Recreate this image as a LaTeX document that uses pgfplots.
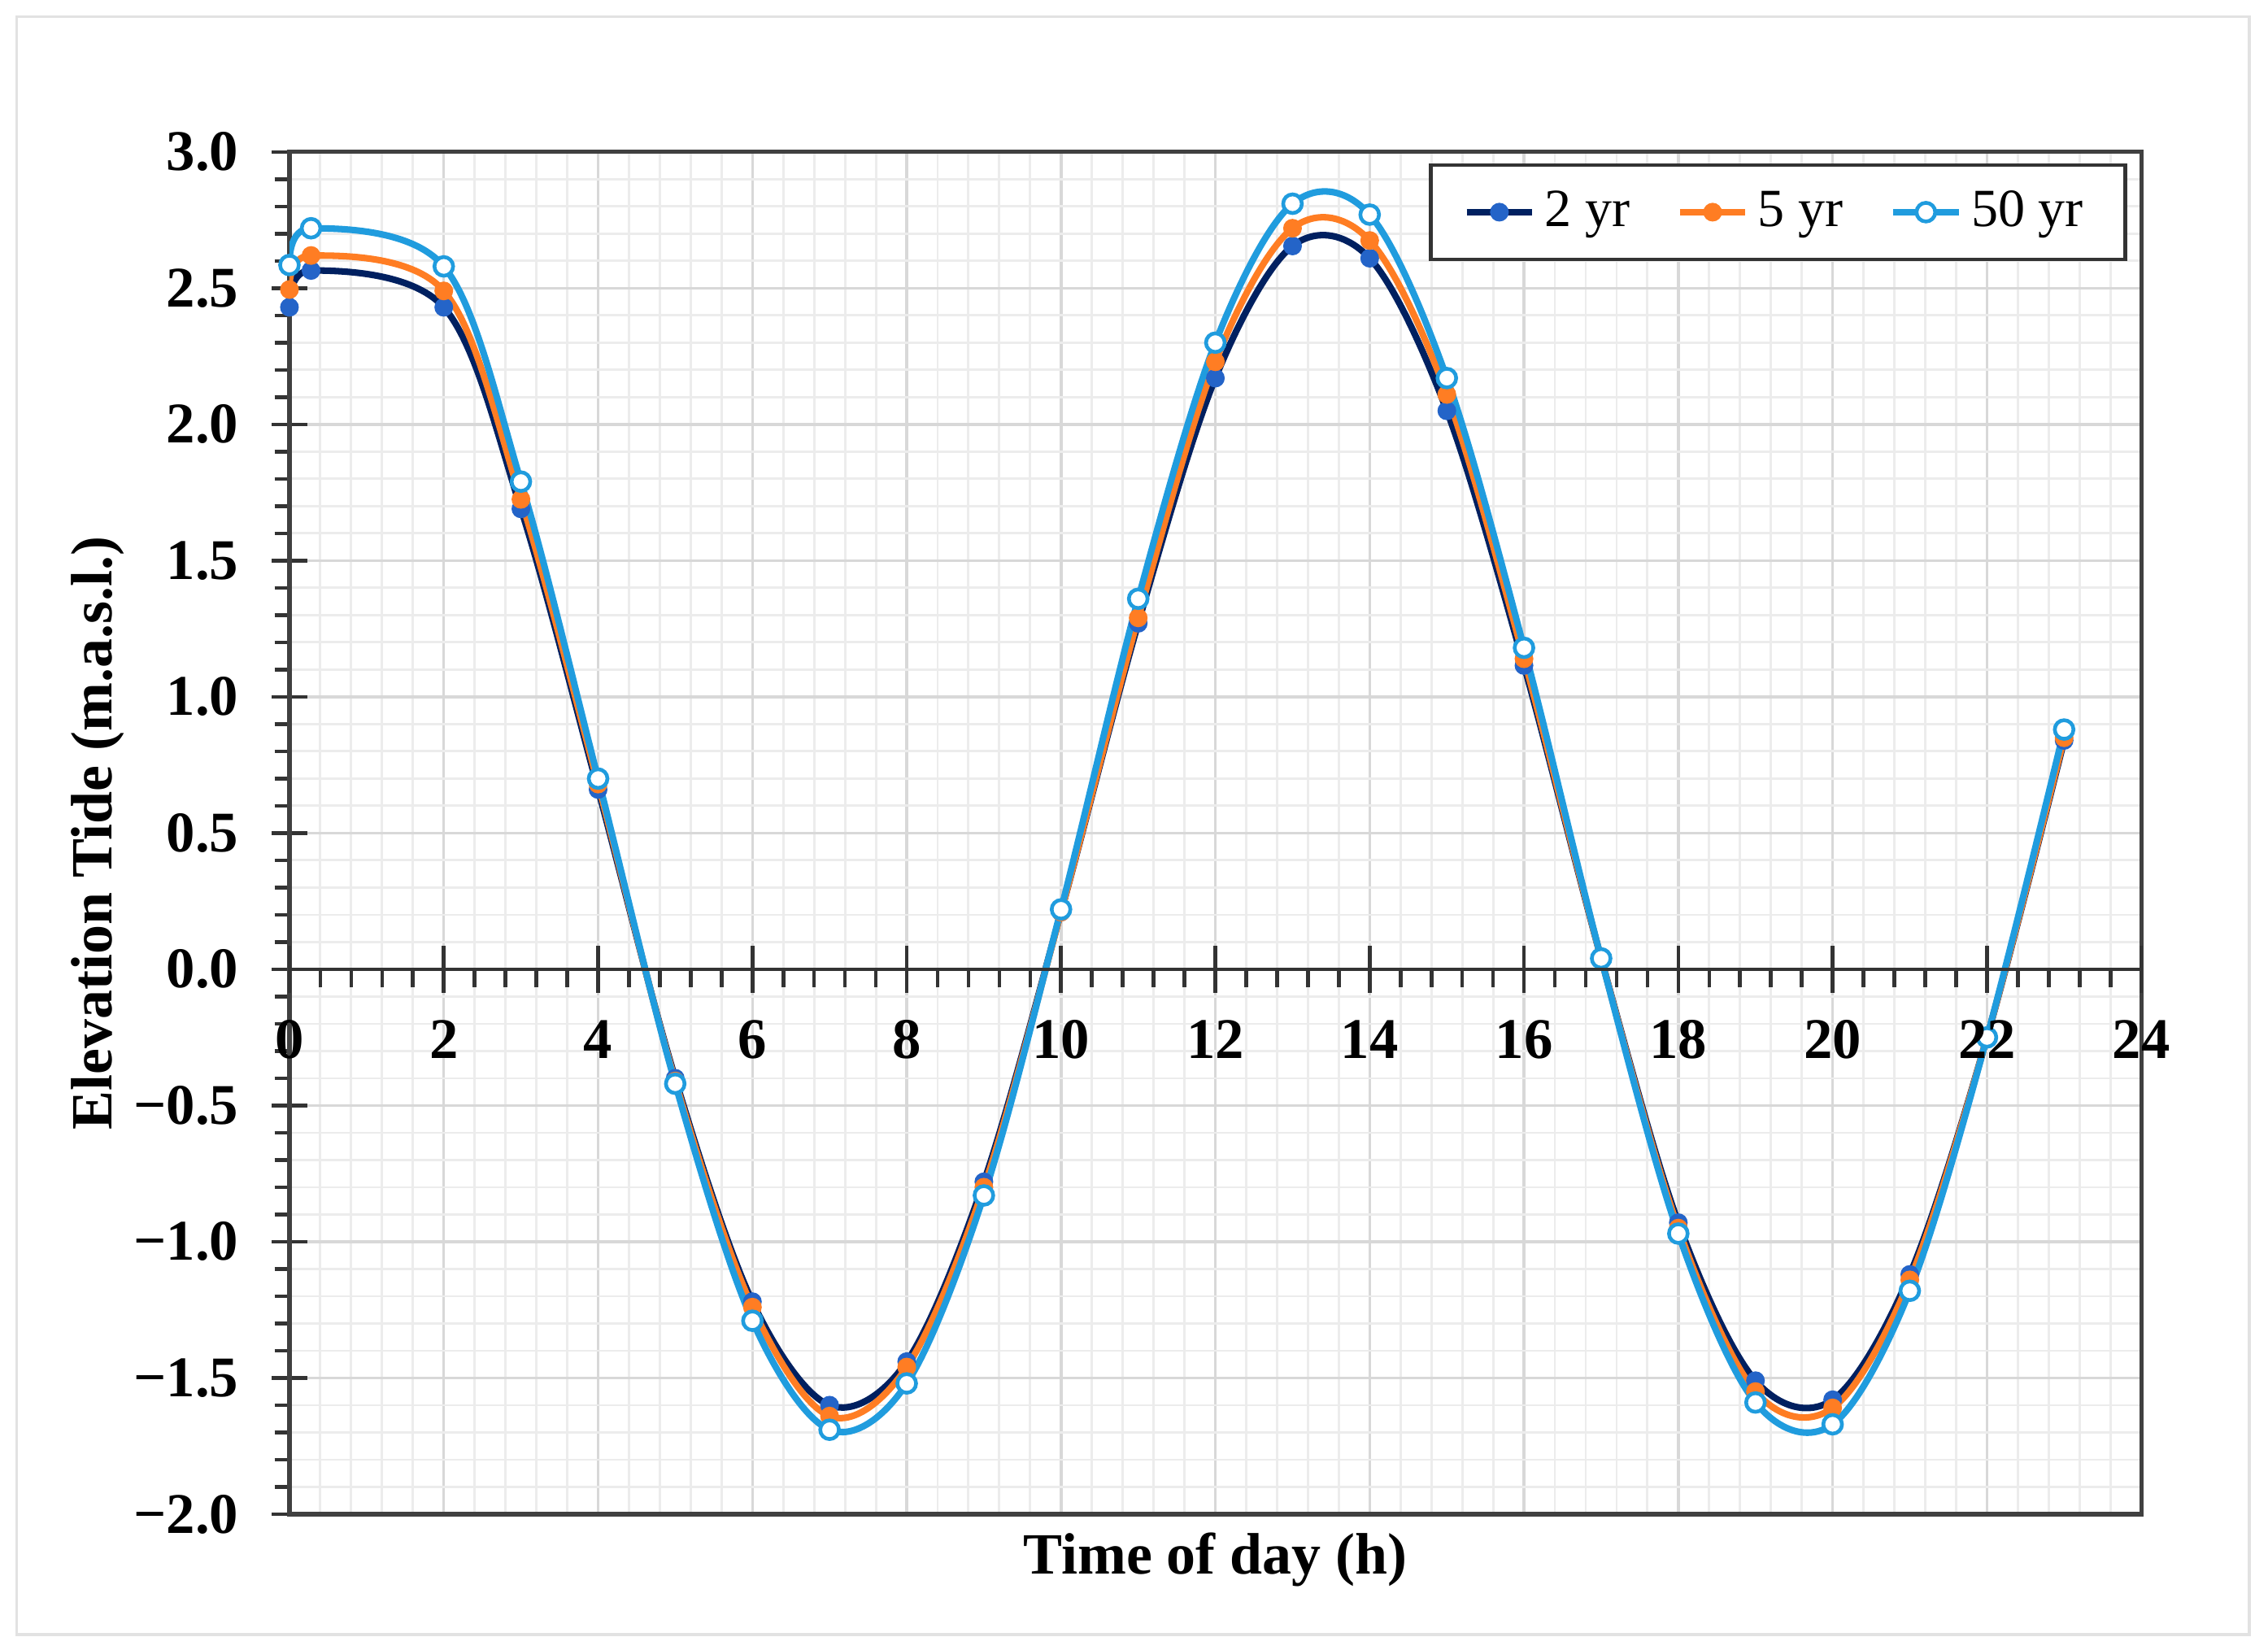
\documentclass[border=0pt]{standalone}
\usepackage{fontspec}
\setmainfont{Liberation Serif}
\usepackage{pgfplots}
\pgfplotsset{compat=1.18}
\usetikzlibrary{calc}

\definecolor{navy2}{RGB}{0,32,96}
\definecolor{mark2}{RGB}{36,100,200}
\definecolor{orange5}{RGB}{255,125,35}
\definecolor{blue50}{RGB}{32,156,222}
\definecolor{gridminor}{RGB}{236,236,236}
\definecolor{gridmajor}{RGB}{216,216,216}
\definecolor{framegray}{RGB}{226,226,226}

\begin{document}
\begin{tikzpicture}
\begin{axis}[
  name=main,
  scale only axis,
  width=396pt, height=291.3pt,
  xmin=0, xmax=24, ymin=-2, ymax=3,
  axis line style={draw=black!75, line width=0.9pt},
  xtick={0,2,...,24},
  minor x tick num=4,
  xticklabels={},
  xtick style={draw=none},
  ytick={-2,-1.5,...,3},
  yticklabels={−2.0,−1.5,−1.0,−0.5,0.0,0.5,1.0,1.5,2.0,2.5,3.0},
  minor y tick num=4,
  ytick pos=left,
  ytick align=center,
  major tick length=7.6pt,
  minor tick length=3.2pt,
  major y tick style={line width=0.8pt, black!80},
  minor y tick style={line width=0.8pt, black!80, xshift=-1.6pt},
  yticklabel style={font=\fontsize{12.3}{14}\selectfont\bfseries, xshift=-3.6pt},
  grid=both,
  major grid style={gridmajor, line width=0.6pt},
  minor grid style={gridminor, line width=0.5pt},
  xlabel={Time of day (h)},
  ylabel={Elevation Tide (m.a.s.l.)},
  every axis x label/.style={at={(axis description cs:0.5,0)}, anchor=center, yshift=-9.8pt,
    font=\fontsize{12.5}{15}\selectfont\bfseries},
  every axis y label/.style={at={(axis description cs:-0.1035,0.5)}, anchor=center, rotate=90,
    font=\fontsize{12.5}{15}\selectfont\bfseries},
  legend columns=3,
  legend style={at={(axis description cs:1,1)}, anchor=north east, xshift=-3pt, yshift=-2.4pt,
    draw=black!80, line width=0.8pt, inner xsep=7pt, inner ysep=3.5pt,
    font=\fontsize{11.5}{13}\selectfont,
    /tikz/every even column/.append style={column sep=8pt}},
  legend image code/.code={\draw[mark repeat=2,mark phase=2,#1] plot coordinates {(0pt,0pt) (7pt,0pt) (14pt,0pt)};},
]
\addplot[navy2, line width=1.4pt, smooth, tension=0.55,
  mark=*, mark size=1.8pt, mark options={fill=mark2, draw=mark2, line width=0.4pt}] coordinates {
  (0,2.43) (0.28,2.565) (2,2.43) (3,1.69) (4,0.66) (5,-0.40) (6,-1.22) (7,-1.60)
  (8,-1.44) (9,-0.78) (10,0.21) (11,1.27) (12,2.17) (13,2.655) (14,2.61) (15,2.05)
  (16,1.115) (17,0.04) (18,-0.93) (19,-1.51) (20,-1.58) (21,-1.12) (22,-0.25) (23,0.84)
};
\addlegendentry{2 yr}
\addplot[orange5, line width=1.4pt, smooth, tension=0.55,
  mark=*, mark size=1.8pt, mark options={fill=orange5, draw=orange5, line width=0.4pt}] coordinates {
  (0,2.495) (0.28,2.62) (2,2.49) (3,1.725) (4,0.68) (5,-0.41) (6,-1.24) (7,-1.64)
  (8,-1.46) (9,-0.80) (10,0.21) (11,1.29) (12,2.23) (13,2.72) (14,2.675) (15,2.11)
  (16,1.14) (17,0.04) (18,-0.95) (19,-1.55) (20,-1.61) (21,-1.14) (22,-0.25) (23,0.85)
};
\addlegendentry{5 yr}
\addplot[blue50, line width=1.4pt, smooth, tension=0.55,
  mark=*, mark size=2pt, mark options={fill=white, draw=blue50, line width=0.8pt}] coordinates {
  (0,2.585) (0.28,2.72) (2,2.58) (3,1.79) (4,0.70) (5,-0.42) (6,-1.29) (7,-1.69)
  (8,-1.52) (9,-0.83) (10,0.22) (11,1.36) (12,2.30) (13,2.81) (14,2.77) (15,2.17)
  (16,1.18) (17,0.04) (18,-0.97) (19,-1.59) (20,-1.67) (21,-1.18) (22,-0.25) (23,0.88)
};
\addlegendentry{50 yr}
\end{axis}
\begin{axis}[
  at={(main.south west)}, anchor=south west,
  scale only axis,
  width=396pt, height=291.3pt,
  xmin=0, xmax=24, ymin=-2, ymax=3,
  axis x line=middle, axis y line=none,
  x axis line style={-, draw=black!80, line width=0.8pt},
  hide obscured x ticks=false,
  xtick={0,2,...,24},
  xticklabels={0,2,4,6,8,10,12,14,16,18,20,22,24},
  minor x tick num=4,
  xtick align=center,
  major tick length=10pt,
  minor tick length=3.9pt,
  major x tick style={line width=0.8pt, black!80},
  minor x tick style={line width=0.8pt, black!80, yshift=-1.95pt},
  xticklabel style={font=\fontsize{12.3}{14}\selectfont\bfseries, anchor=center, yshift=-10pt},
  ytick=\empty,
]
\end{axis}
\draw[framegray, line width=0.6pt] ($(main.south west)+(-58.3pt,-25.7pt)$) rectangle ($(main.north east)+(23.1pt,28.9pt)$);
\path ($(main.south west)+(-61.9pt,-28.9pt)$) rectangle ($(main.north east)+(27.1pt,32.5pt)$);
\end{tikzpicture}
\end{document}
